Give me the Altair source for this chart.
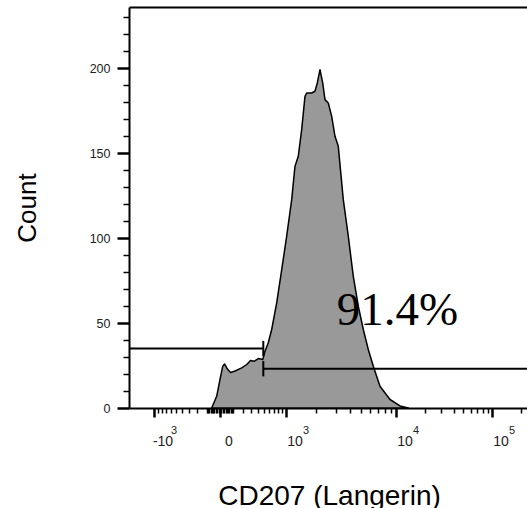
import altair as alt
import pandas as pd

# ---------------- data ----------------
# histogram outline: CD207 intensity (biexponential axis) vs event count
hist_x = [-61, -23, 0, 19, 32, 54, 79, 119, 186, 243, 291, 339, 403, 475, 515,
          577, 646, 757, 882, 1017, 1147, 1239, 1338, 1446, 1558, 1618, 1808, 1943,
          2042, 2164, 2293, 2407, 2581, 2771, 2968, 3177, 3520, 3897, 4312, 4767,
          5267, 5816, 6419, 7321, 8900, 11026, 13485]
hist_count = [0, 6.9, 16.8, 24.6, 25.9, 22.9, 20.9, 21.8, 23.6, 25.6, 27.9, 27.5,
              29.1, 28.5, 33.4, 38.4, 46.2, 61.9, 81.5, 101.1, 122.6, 142.2, 148.1,
              163.8, 183.4, 185.4, 185.4, 186.4, 191.3, 199.1, 191.3, 181.5, 179.5,
              171.6, 159.9, 154.0, 122.6, 101.1, 77.5, 59.9, 46.2, 34.4, 24.6, 12.8,
              5.0, 1.2, 0]

# gates (negative / positive)
gate_start = [-3000, 485]
gate_end = [485, 262144]
gate_level = [35.0, 23.1]
gate_split = [485, 485]

# percentage label
pct_text = ["91.4%"]
pct_x = [3074]
pct_y = [49.1]

# axes
x_major = [-1000, 0, 1000, 10000, 100000]
x_major_base = ["-10", "0", "10", "10", "10"]
x_major_exp = ["3", "", "3", "4", "5"]
x_minor = ([-900, -800, -700, -600, -500, -400, -300, -200, -100]
           + [-90, -80, -70, -60, -50, -40, -30, -20, -10]
           + [10, 20, 30, 40, 50, 60, 70, 80, 90]
           + [100, 200, 300, 400, 500, 600, 700, 800, 900]
           + [2000, 3000, 4000, 5000, 6000, 7000, 8000, 9000]
           + [20000, 30000, 40000, 50000, 60000, 70000, 80000, 90000, 200000])
y_major = [0, 50, 100, 150, 200]
y_minor = [10, 20, 30, 40, 60, 70, 80, 90, 110, 120, 130, 140, 160, 170, 180, 190,
           210, 220, 230]

# biexponential-like axis: symlog pieces joined at the 10^3 and 10^4 decades
x_domain = [-1966, 1000, 10000, 229900]
x_range = [0, 157, 267, 398]
y_domain = [0, 236]

# ---------------- tables ----------------
hist = pd.DataFrame({"intensity": hist_x, "count": hist_count})
gates = pd.DataFrame({"start": gate_start, "end": gate_end, "level": gate_level,
                      "split": gate_split})
pct = pd.DataFrame({"x": pct_x, "y": pct_y, "label": pct_text})


def label_expr(labels):
    return " : ".join(
        f"datum.value == {v} ? '{l}'" for v, l in zip(x_major, labels)
    ) + " : ''"


FONT = "Liberation Sans"
X_SCALE = alt.Scale(type="symlog", constant=300, domain=x_domain, range=x_range,
                    nice=False, zero=False)
Y_SCALE = alt.Scale(domain=y_domain, nice=False, zero=False)

area = alt.Chart(hist).mark_area(
    fill="#999999", stroke="black", strokeWidth=1.5, strokeJoin="round"
).encode(
    x=alt.X("intensity:Q", scale=X_SCALE,
            axis=alt.Axis(orient="bottom", values=x_major,
                          labelExpr=label_expr(x_major_base),
                          labelFontSize=14, labelAlign="center", labelOffset=8.5,
                          labelBaseline="alphabetic", labelPadding=28,
                          tickSize=9, tickWidth=2.5, domainWidth=2,
                          title="CD207 (Langerin)", titleFontSize=28,
                          titleFontWeight="normal", titleX=200, titleY=96,
                          titleAlign="center", titleBaseline="alphabetic")),
    y=alt.Y("count:Q", scale=Y_SCALE,
            axis=alt.Axis(orient="left", values=y_major, labelFontSize=12.5,
                          labelPadding=7, tickSize=12, tickWidth=2.5, domainWidth=2,
                          title="Count", titleFontSize=26, titleFontWeight="normal",
                          titleAngle=270, titleX=-94, titleY=200.5,
                          titleAlign="center", titleBaseline="alphabetic")),
)

gate_lines = alt.Chart(gates).mark_rule(color="black", strokeWidth=2, clip=True).encode(
    x=alt.X("start:Q", scale=X_SCALE,
            axis=alt.Axis(orient="bottom", values=x_minor, labels=False, domain=False,
                          tickSize=5, tickWidth=1.5, title=None)),
    x2="end:Q",
    y=alt.Y("level:Q", scale=Y_SCALE,
            axis=alt.Axis(orient="left", values=y_minor, labels=False, domain=False,
                          tickSize=6, tickWidth=1.5, title=None)),
)

gate_marks = alt.Chart(gates).transform_calculate(
    lo="datum.level - 4.5", hi="datum.level + 4.5"
).mark_rule(color="black", strokeWidth=2).encode(
    x=alt.X("split:Q", scale=X_SCALE,
            axis=alt.Axis(orient="bottom", values=x_major,
                          labelExpr=label_expr(x_major_exp), labelFontSize=11,
                          labelAlign="left", labelOffset=16.5,
                          labelBaseline="alphabetic", labelPadding=25,
                          tickSize=0, tickOpacity=0, domain=False, title=None)),
    y=alt.Y("lo:Q", scale=Y_SCALE, axis=None),
    y2="hi:Q",
)

pct_label = alt.Chart(pct).mark_text(
    font="Liberation Serif", fontSize=47, align="left", baseline="alphabetic",
    color="black"
).encode(
    x=alt.X("x:Q", scale=X_SCALE,
            axis=alt.Axis(orient="top", domain=True, domainWidth=2, ticks=False,
                          labels=False, title=None)),
    y=alt.Y("y:Q", scale=Y_SCALE, axis=None),
    text="label:N",
)

chart = alt.layer(area, gate_lines, gate_marks, pct_label).resolve_axis(
    x="independent", y="independent"
).properties(
    width=398, height=401,
    padding={"left": 129, "top": 7, "right": 0, "bottom": 100},
    autosize=alt.AutoSizeParams(type="none"),
    background="white",
).configure_view(stroke=None).configure_axis(
    grid=False, labelFont=FONT, titleFont=FONT, labelColor="#222222",
    titleColor="black", domainColor="black", tickColor="black",
)

chart.save("out.html", embed_options={"renderer": "svg", "actions": False})
